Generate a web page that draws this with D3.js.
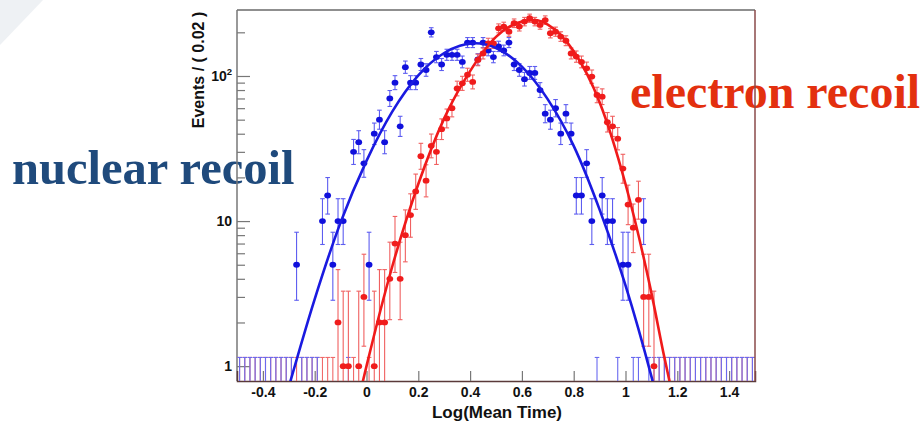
<!DOCTYPE html>
<html><head><meta charset="utf-8">
<script src="https://cdn.jsdelivr.net/npm/d3@7/dist/d3.min.js"></script>
<style>body{margin:0;background:#fff;} svg{display:block;}</style>
</head><body>
<svg id="chart" width="924" height="425"></svg>
<script>
// ---- data ----
const binStart = -0.49, binWidth = 0.02, nBins = 100;
const binCenters = d3.range(nBins).map(i => +(binStart + binWidth * i).toFixed(2));

// nuclear recoil (blue) events per bin
const nuclearCounts = [
  0,0,0,0,0,0,0,0,0,0,
  0,5,0,0,0,0,10,15,5,10,
  10,0,30,35,25,5,40,50,35,70,
  90,45,115,90,90,120,110,200,135,120,
  140,140,140,125,170,170,130,170,150,135,
  160,150,170,120,110,95,105,105,80,55,
  50,60,40,55,40,15,15,25,10,0,
  15,10,10,0,5,5,0,0,10,0,
  0,0,0,0,0,0,0,0,0,0,
  0,0,0,0,0,0,0,0,0,0
];
// electron recoil (red) events per bin
const electronCounts = [
  0,0,0,0,0,0,0,0,0,0,
  0,0,0,0,0,0,0,0,0,2,
  1,1,0,1,3,0,1,2,2,4,
  7,4,8,11,16,28,19,33,30,43,
  51,60,82,89,102,91,129,143,168,168,
  213,219,202,231,219,237,250,237,225,243,
  197,202,187,175,143,136,125,113,99,74,
  72,48,45,37,23,13,9,14,3,3,
  1,0,0,0,0,0,0,0,0,0,
  0,0,0,0,0,0,0,0,0,0
];
// fitted curves
const nuclearFitX = [-0.30,-0.20,-0.10,0.00,0.10,0.20,0.30,0.42,0.50,0.60,0.70,0.80,0.90,1.00,1.10,1.12];
const nuclearFitY = [0.72,2.9,9.8,26,57,101,144,168,156,116,69,33,12,3.6,0.85,0.62];
const electronFitX = [-0.02,0.00,0.10,0.20,0.30,0.40,0.50,0.60,0.65,0.70,0.80,0.90,1.00,1.10,1.15,1.18];
const electronFitY = [0.71,1.0,4.9,18,51,108,186,237,243,226,148,66,18,3.2,1.15,0.65];

const xTickValues = [-0.4,-0.2,0,0.2,0.4,0.6,0.8,1,1.2,1.4];
const xTickLabels = ["-0.4","-0.2","0","0.2","0.4","0.6","0.8","1","1.2","1.4"];
const yMajorTicks = [1,10,100];
const yTickLabels = [["1",""],["10",""],["10","2"]];
const yMinorTicks = [2,3,4,5,6,7,8,9,20,30,40,50,60,70,80,90,200];

// ---- layout ----
const svg = d3.select("#chart");
const L = 237, R = 755, T = 10, B = 381;
const x = d3.scaleLinear().domain([-0.5, 1.5]).range([L, R]);
const y = d3.scaleLog().domain([0.79, 285]).range([B, T]);

// slide decoration
svg.append("path").attr("d", "M0,0 L43,0 L0,45 Z").attr("fill", "#eef1f4");

svg.append("defs").append("clipPath").attr("id", "plotclip")
  .append("rect").attr("x", L).attr("y", T).attr("width", R - L).attr("height", B - T);

const axisFont = "'Liberation Sans', Arial, Helvetica, sans-serif";
const serifFont = "'Liberation Serif','Times New Roman',serif";

// annotations
svg.append("text").attr("x", 12).attr("y", 184)
  .attr("font-family", serifFont).attr("font-weight", "bold")
  .attr("font-size", 48.5).attr("fill", "#1f4a7c").text("nuclear recoil");

// frame (left/top)
const frame = svg.append("g");
frame.append("line").attr("x1", L).attr("x2", R).attr("y1", T).attr("y2", T).attr("stroke", "#6a6a6a").attr("stroke-width", 1.6);
frame.append("line").attr("x1", L).attr("x2", L).attr("y1", T).attr("y2", B).attr("stroke", "#777").attr("stroke-width", 1.5);

// y axis ticks
const yAxisMajor = d3.axisLeft(y).tickValues(yMajorTicks).tickSize(-13).tickFormat("");
const yAxisMinor = d3.axisLeft(y).tickValues(yMinorTicks).tickSize(-8).tickFormat("");
[yAxisMajor, yAxisMinor].forEach(ax => {
  const g = svg.append("g").attr("transform", `translate(${L},0)`).call(ax);
  g.select(".domain").remove();
  g.selectAll(".tick line").attr("stroke", "#777").attr("stroke-width", 1.2);
});
yMajorTicks.forEach((v, i) => {
  const t = svg.append("text").attr("x", 232).attr("y", y(v) + 5)
    .attr("text-anchor", "end").attr("font-family", axisFont).attr("font-weight", "bold")
    .attr("font-size", 14).attr("fill", "#111");
  t.append("tspan").text(yTickLabels[i][0]);
  if (yTickLabels[i][1]) {
    t.append("tspan").attr("dy", -6).attr("font-size", 9.5).text(yTickLabels[i][1]);
  }
});

// x axis
const xAxis = d3.axisBottom(x).tickValues(xTickValues).tickSize(-10).tickPadding(6)
  .tickFormat((d, i) => xTickLabels[i]);
const gx = svg.append("g").attr("transform", `translate(0,${B})`).call(xAxis);
gx.select(".domain").attr("stroke", "#5a3a3a").attr("stroke-width", 1.5);
gx.selectAll(".tick line").attr("stroke", "#777").attr("stroke-width", 1.2);
gx.selectAll(".tick text").attr("font-family", axisFont).attr("font-weight", "bold")
  .attr("font-size", 14).attr("fill", "#111");

// axis titles
svg.append("text").attr("x", 497).attr("y", 418).attr("text-anchor", "middle")
  .attr("font-family", axisFont).attr("font-weight", "bold").attr("font-size", 17)
  .attr("fill", "#111").text("Log(Mean Time)");
svg.append("text").attr("transform", "translate(204,70) rotate(-90)").attr("text-anchor", "middle")
  .attr("font-family", axisFont).attr("font-weight", "bold").attr("font-size", 16)
  .attr("fill", "#111").text("Events / ( 0.02 )");

// Poisson error interval
const pLow = n => n <= 0 ? 0 : n * Math.pow(1 - 1 / (9 * n) - 1 / (3 * Math.sqrt(n)), 3);
const pHigh = n => { if (n <= 0) return 1.148; const m = n + 1; return m * Math.pow(1 - 1 / (9 * m) + 1 / (3 * Math.sqrt(m)), 3); };

const plot = svg.append("g").attr("clip-path", "url(#plotclip)");
const capW = 2.3;

function drawSeries(counts, barColor, dotColor, zeroOnly) {
  const data = binCenters.map((c, i) => ({ c, n: counts[i] }));
  const sel = data.filter(d => zeroOnly ? d.n === 0 : d.n > 0);
  const g = plot.append("g").attr("stroke", barColor).attr("stroke-width", 1.1);
  sel.forEach(d => {
    const cx = x(d.c);
    const y0 = d.n > 0 ? y(pLow(d.n)) : B;
    const y1 = y(pHigh(d.n));
    g.append("line").attr("x1", cx).attr("x2", cx).attr("y1", y0).attr("y2", y1);
    g.append("line").attr("x1", cx - capW).attr("x2", cx + capW).attr("y1", y1).attr("y2", y1);
    if (d.n > 0) g.append("line").attr("x1", cx - capW).attr("x2", cx + capW).attr("y1", y0).attr("y2", y0);
  });
  if (!zeroOnly) {
    plot.append("g").selectAll("ellipse").data(sel).join("ellipse")
      .attr("cx", d => x(d.c)).attr("cy", d => y(d.n)).attr("rx", 3.4).attr("ry", 2.9)
      .attr("fill", dotColor);
  }
}
drawSeries(electronCounts, "#f06a6a", "#f01c1c", true);
drawSeries(nuclearCounts, "#6a6af0", "#1010dc", true);
drawSeries(nuclearCounts, "#5d5df0", "#1010dc", false);
drawSeries(electronCounts, "#f06060", "#f01c1c", false);

const line = d3.line().x(d => x(d[0])).y(d => y(d[1])).curve(d3.curveMonotoneX);
plot.append("path").datum(nuclearFitX.map((v, i) => [v, nuclearFitY[i]]))
  .attr("d", line).attr("fill", "none").attr("stroke", "#1a1ae0").attr("stroke-width", 2.6);
plot.append("path").datum(electronFitX.map((v, i) => [v, electronFitY[i]]))
  .attr("d", line).attr("fill", "none").attr("stroke", "#f01a1a").attr("stroke-width", 2.6);

svg.append("text").attr("x", 630).attr("y", 108)
  .attr("font-family", serifFont).attr("font-weight", "bold")
  .attr("font-size", 48).attr("fill", "#e3300f").text("electron recoil");

// right frame edge drawn on top
svg.append("line").attr("x1", R).attr("x2", R).attr("y1", T).attr("y2", B)
  .attr("stroke", "#8a4a4a").attr("stroke-width", 1.5);
</script>
</body></html>
